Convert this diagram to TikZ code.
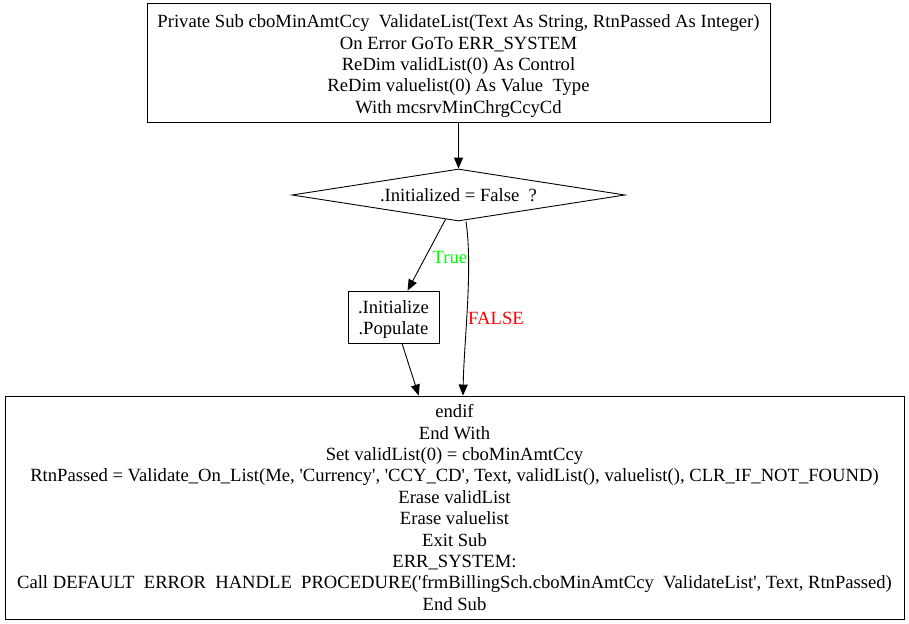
\documentclass[tikz,border=0pt]{standalone}
\usepackage{fontspec}
\setmainfont{Liberation Serif}[Ligatures=TeXOff]
\usetikzlibrary{shapes.geometric,arrows.meta}
\definecolor{truegreen}{RGB}{0,255,0}
\definecolor{falsered}{RGB}{255,0,0}
\begin{document}
\begin{tikzpicture}[x=1bp,y=-1bp,
  every node/.style={font=\fontsize{18.7}{21.5}\selectfont, align=center, inner sep=0pt},
  stepbox/.style={draw, line width=0.9bp},
  decision/.style={draw, diamond, line width=0.9bp, aspect=6.4},
  flow/.style={line width=0.9bp, -{Triangle[length=11bp,width=9bp]}},
  lbl/.style={font=\fontsize{18.7}{21}\selectfont}]
\useasboundingbox (0,0) rectangle (909,624);

% procedure header
\node[stepbox, minimum width=623bp, minimum height=119bp] (head) at (458.5,62.5) {};
\node (headtext) at (458.5,66)
  {Private Sub cboMinAmtCcy\ \ ValidateList(Text As String, RtnPassed As Integer)\\
   On Error GoTo ERR\_SYSTEM\\
   ReDim validList(0) As Control\\
   ReDim valuelist(0) As Value\ \ Type\\
   With mcsrvMinChrgCcyCd};

% test
\node[decision, minimum width=333bp, minimum height=52bp] (dia) at (458.5,195)
  {.Initialized = False\ \ ?};

% initialization step
\node[stepbox, minimum width=91bp, minimum height=52bp] (init) at (393.5,317) {};
\node (inittext) at (393.5,319.5) {.Initialize\\.Populate};

% remainder of the procedure
\node[stepbox, minimum width=899bp, minimum height=223bp] (tail) at (454.5,507.5)
  {endif\\
   End With\\
   Set validList(0) = cboMinAmtCcy\\
   RtnPassed = Validate\_On\_List(Me, 'Currency', 'CCY\_CD', Text, validList(), valuelist(), CLR\_IF\_NOT\_FOUND)\\
   Erase validList\\
   Erase valuelist\\
   Exit Sub\\
   ERR\_SYSTEM:\\
   Call DEFAULT\ \ ERROR\ \ HANDLE\ \ PROCEDURE('frmBillingSch.cboMinAmtCcy\ \ ValidateList', Text, RtnPassed)\\
   End Sub};

\draw[flow] (head) -- (dia);
\draw[flow] (dia) -- (init);
\draw[flow] (init) -- (tail);
\draw[flow] ([xshift=7.5bp]dia.south) .. controls (473,270) and (464,340) .. ([xshift=8.5bp]tail.north);

\node[lbl, text=truegreen] (tlab) at (450,257) {True};
\node[lbl, text=falsered] (flab) at (496,318) {FALSE};
\end{tikzpicture}
\end{document}
